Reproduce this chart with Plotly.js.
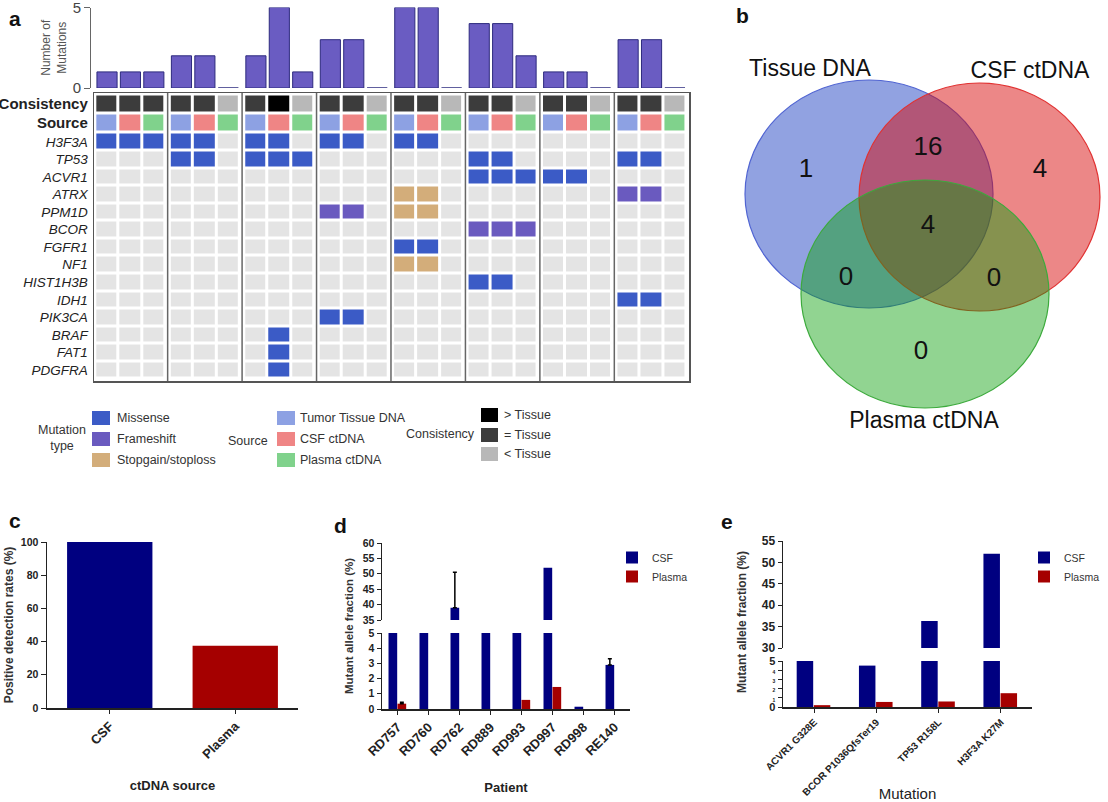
<!DOCTYPE html>
<html><head><meta charset="utf-8">
<script src="https://cdn.plot.ly/plotly-3.0.1.min.js"></script>
<style>html,body{margin:0;padding:0;background:#fff}</style>
</head><body><div id="chart" style="width:1108px;height:802px"></div>
<script>
// ================= DATA =================
// Panel a: oncoprint, 8 patients x 3 samples (Tumor tissue DNA, CSF ctDNA, Plasma ctDNA)
const genes = ['H3F3A','TP53','ACVR1','ATRX','PPM1D','BCOR','FGFR1','NF1','HIST1H3B','IDH1','PIK3CA','BRAF','FAT1','PDGFRA'];
// 0 none, 1 missense, 2 frameshift, 3 stopgain/stoploss
const mutH3F3A    = [1,1,1, 1,1,0, 1,1,0, 1,1,0, 1,1,0, 0,0,0, 0,0,0, 0,0,0];
const mutTP53     = [0,0,0, 1,1,0, 1,1,1, 0,0,0, 0,0,0, 1,1,0, 0,0,0, 1,1,0];
const mutACVR1    = [0,0,0, 0,0,0, 0,0,0, 0,0,0, 0,0,0, 1,1,1, 1,1,0, 0,0,0];
const mutATRX     = [0,0,0, 0,0,0, 0,0,0, 0,0,0, 3,3,0, 0,0,0, 0,0,0, 2,2,0];
const mutPPM1D    = [0,0,0, 0,0,0, 0,0,0, 2,2,0, 3,3,0, 0,0,0, 0,0,0, 0,0,0];
const mutBCOR     = [0,0,0, 0,0,0, 0,0,0, 0,0,0, 0,0,0, 2,2,2, 0,0,0, 0,0,0];
const mutFGFR1    = [0,0,0, 0,0,0, 0,0,0, 0,0,0, 1,1,0, 0,0,0, 0,0,0, 0,0,0];
const mutNF1      = [0,0,0, 0,0,0, 0,0,0, 0,0,0, 3,3,0, 0,0,0, 0,0,0, 0,0,0];
const mutHIST1H3B = [0,0,0, 0,0,0, 0,0,0, 0,0,0, 0,0,0, 1,1,0, 0,0,0, 0,0,0];
const mutIDH1     = [0,0,0, 0,0,0, 0,0,0, 0,0,0, 0,0,0, 0,0,0, 0,0,0, 1,1,0];
const mutPIK3CA   = [0,0,0, 0,0,0, 0,0,0, 1,1,0, 0,0,0, 0,0,0, 0,0,0, 0,0,0];
const mutBRAF     = [0,0,0, 0,0,0, 0,1,0, 0,0,0, 0,0,0, 0,0,0, 0,0,0, 0,0,0];
const mutFAT1     = [0,0,0, 0,0,0, 0,1,0, 0,0,0, 0,0,0, 0,0,0, 0,0,0, 0,0,0];
const mutPDGFRA   = [0,0,0, 0,0,0, 0,1,0, 0,0,0, 0,0,0, 0,0,0, 0,0,0, 0,0,0];
const mutationCounts = [1,1,1, 2,2,0, 2,5,1, 3,3,0, 5,5,0, 4,4,2, 1,1,0, 3,3,0];
const consistency = ['=','=','=', '=','=','<', '=','>','<', '=','=','<', '=','=','<', '=','=','<', '=','=','<', '=','=','<'];
const mutationTypes = ['Missense','Frameshift','Stopgain/stoploss'];
const sourceNames = ['Tumor Tissue DNA','CSF ctDNA','Plasma ctDNA'];
const consistencyNames = ['> Tissue','= Tissue','< Tissue'];

// Panel b: Venn
const vennSets = ['Tissue DNA','CSF ctDNA','Plasma ctDNA'];
const vennRegions = ['Tissue only','CSF only','Plasma only','Tissue & CSF','Tissue & Plasma','CSF & Plasma','All three'];
const vennCounts = [1,4,0,16,0,0,4];

// Panel c
const detectSources = ['CSF','Plasma'];
const detectRates = [100, 37.5];

// Panel d
const patientsD = ['RD757','RD760','RD762','RD889','RD993','RD997','RD998','RE140'];
const csfD = [18, 22, 39, 14, 25, 52, 0.15, 2.9];
const csfErrD = [NaN, NaN, 11.5, NaN, NaN, NaN, NaN, 0.4];
const plasmaD = [0.35, 0, 0, 0, 0.6, 1.45, 0, 0];
const plasmaErrD = [0.1, NaN, NaN, NaN, NaN, NaN, NaN, NaN];

// Panel e
const mutationsE = ['ACVR1 G328E','BCOR P1036QfsTer19','TP53 R158L','H3F3A K27M'];
const csfE = [12, 4.5, 36.3, 52];
const plasmaE = [0.2, 0.55, 0.6, 1.5];

// ================= LAYOUT HELPERS =================
const W = 1108, H = 802;
const px = v => v / W;
const py = v => 1 - v / H;
const FONT = 'Liberation Sans, Arial, Helvetica, sans-serif';
const NAVY = '#000080', DRED = '#a50000';

const GROUP = 3.18;
const colX = i => Math.floor(i / 3) * GROUP + (i % 3);
const rowY = [-2.166, -1.083].concat(genes.map((g, i) => i));
const cellColors = ['#e4e4e4','#3b5bc6','#6a5abf','#d3ad7a','#8da1e3','#ef8585','#80d28c','#000000','#3c3c3c','#b8b8b8'];
const colorscale = [];
cellColors.forEach((c, i) => { colorscale.push([i / 10, c]); colorscale.push([(i + 1) / 10, c]); });
const consCode = {'>': 7, '=': 8, '<': 9};
const mutRows = [mutH3F3A, mutTP53, mutACVR1, mutATRX, mutPPM1D, mutBCOR, mutFGFR1, mutNF1, mutHIST1H3B, mutIDH1, mutPIK3CA, mutBRAF, mutFAT1, mutPDGFRA];

const traces = [];
for (let g = 0; g < 8; g++) {
  const cols = [3 * g, 3 * g + 1, 3 * g + 2];
  const z = [cols.map(c => consCode[consistency[c]]), [4, 5, 6]].concat(mutRows.map(r => cols.map(c => r[c])));
  traces.push({type: 'heatmap', x: cols.map(colX), y: rowY, z: z, zmin: -0.5, zmax: 9.5,
    colorscale: colorscale, showscale: false, xgap: 3, ygap: 3, hoverinfo: 'skip', xaxis: 'x', yaxis: 'y'});
}
traces.push({type: 'bar', x: mutationCounts.map((v, i) => colX(i)), y: mutationCounts, width: 0.86,
  marker: {color: '#6a5cc2', line: {color: '#2d2a7e', width: 1}}, xaxis: 'x', yaxis: 'y2', showlegend: false, hoverinfo: 'y'});

// Venn labels
const vennCountPos = [[806,170],[1040,170],[921,352],[928,148],[846,278],[994,279],[928,226]];
const vennSetPos = [[810,70],[1030,72],[924,422]];
traces.push({type: 'scatter', mode: 'text', x: vennCountPos.map(p => p[0]), y: vennCountPos.map(p => p[1]),
  text: vennCounts.map(String), textfont: {size: 26, color: '#111', family: FONT}, xaxis: 'x2', yaxis: 'y3', showlegend: false, hoverinfo: 'skip'});
traces.push({type: 'scatter', mode: 'text', x: vennSetPos.map(p => p[0]), y: vennSetPos.map(p => p[1]),
  text: vennSets, textfont: {size: 23, color: '#111', family: FONT}, xaxis: 'x2', yaxis: 'y3', showlegend: false, hoverinfo: 'skip'});

// Panel c
traces.push({type: 'bar', x: detectSources, y: detectRates, width: 0.68, marker: {color: [NAVY, DRED]},
  xaxis: 'x3', yaxis: 'y4', showlegend: false});

// Panel d (two segments of broken axis)
const errOpts = arr => ({type: 'data', symmetric: false, array: arr, arrayminus: arr.map(v => isNaN(v) ? NaN : 0), color: '#000', thickness: 1.5, width: 2});
['y5', 'y6'].forEach((ya, k) => {
  traces.push({type: 'bar', name: 'CSF', x: patientsD, y: csfD, width: 0.28, offset: -0.29, marker: {color: NAVY, line: {width: 0}},
    error_y: errOpts(csfErrD), xaxis: 'x4', yaxis: ya, legend: 'legend', showlegend: k === 0});
  traces.push({type: 'bar', name: 'Plasma', x: patientsD, y: plasmaD, width: 0.28, offset: 0.0, marker: {color: DRED, line: {width: 0}},
    error_y: errOpts(plasmaErrD), xaxis: 'x4', yaxis: ya, legend: 'legend', showlegend: k === 0});
});
// Panel e
['y7', 'y8'].forEach((ya, k) => {
  traces.push({type: 'bar', name: 'CSF', x: mutationsE, y: csfE, width: 0.265, offset: -0.28, marker: {color: NAVY},
    xaxis: 'x5', yaxis: ya, legend: 'legend2', showlegend: k === 0});
  traces.push({type: 'bar', name: 'Plasma', x: mutationsE, y: plasmaE, width: 0.265, offset: -0.005, marker: {color: DRED},
    xaxis: 'x5', yaxis: ya, legend: 'legend2', showlegend: k === 0});
});

// ================= SHAPES & ANNOTATIONS =================
const shapes = [];
for (let g = 0; g < 7; g++) {
  const xs = g * GROUP + 2 + (GROUP - 2) / 2;
  shapes.push({type: 'line', xref: 'x', yref: 'y domain', x0: xs, x1: xs, y0: 0, y1: 1, line: {color: '#666', width: 1.5}});
}
// legend swatches (panel a)
const swatch = (x0, y0, x1, y1, c) => shapes.push({type: 'rect', xref: 'paper', yref: 'paper', x0: px(x0), x1: px(x1), y0: py(y1), y1: py(y0), fillcolor: c, line: {width: 0}});
const legRowsA = [[411,425],[432,446],[453,467]];
const legRowsC = [[408,422],[428,442],[447,461]];
legRowsA.forEach((r, i) => swatch(92, r[0], 110, r[1], cellColors[1 + i]));
legRowsA.forEach((r, i) => swatch(277, r[0], 295, r[1], cellColors[4 + i]));
legRowsC.forEach((r, i) => swatch(481, r[0], 498, r[1], cellColors[7 + i]));
// Venn circles
const vennCircles = [
  {x0: 745, x1: 993, y0: 80, y1: 308, fill: 'rgba(35,70,195,0.5)', line: 'rgb(80,100,210)'},
  {x0: 859, x1: 1100, y0: 83, y1: 311, fill: 'rgba(215,5,5,0.48)', line: 'rgb(225,50,50)'},
  {x0: 801, x1: 1049, y0: 180, y1: 408, fill: 'rgba(10,160,10,0.45)', line: 'rgb(60,170,60)'}
];
vennCircles.forEach(c => shapes.push({type: 'circle', xref: 'x2', yref: 'y3', x0: c.x0, x1: c.x1, y0: c.y0, y1: c.y1,
  fillcolor: c.fill, line: {color: c.line, width: 1.2}, layer: 'below'}));

const ann = [];
const txt = (x, y, text, opt) => ann.push(Object.assign({xref: 'paper', yref: 'paper', x: px(x), y: py(y), text: text, showarrow: false,
  font: {family: FONT, size: 12.5, color: '#333'}, xanchor: 'left', yanchor: 'middle'}, opt || {}));
[['a',15,18],['b',742,15],['c',15,520],['d',340,525],['e',727,521]].forEach(l =>
  txt(l[1], l[2], l[0], {xanchor: 'center', font: {family: FONT, size: 21, color: '#111', weight: 'bold'}}));
txt(62, 438, 'Mutation<br>type', {xanchor: 'center', align: 'center'});
mutationTypes.forEach((t, i) => txt(115, (legRowsA[i][0] + legRowsA[i][1]) / 2, t));
txt(270, 441, 'Source', {xanchor: 'right'});
sourceNames.forEach((t, i) => txt(298, (legRowsA[i][0] + legRowsA[i][1]) / 2, t));
txt(477, 434, 'Consistency', {xanchor: 'right'});
consistencyNames.forEach((t, i) => txt(502, (legRowsC[i][0] + legRowsC[i][1]) / 2, t));
txt(349, 626, 'Mutant allele fraction (%)', {xanchor: 'center', textangle: -90, font: {family: FONT, size: 11.5, color: '#333', weight: 'bold'}});
txt(742, 622, 'Mutant allele fraction (%)', {xanchor: 'center', textangle: -90, font: {family: FONT, size: 12, color: '#333', weight: 'bold'}});

// ================= AXES =================
const boldTick = s => ({family: FONT, size: s, color: '#222', weight: 'bold'});
const baseAx = {showgrid: false, zeroline: false, showline: true, linecolor: '#222', linewidth: 1.5, ticks: 'outside', ticklen: 4, tickcolor: '#222'};
const tinyTick = v => '<span style="font-size:5px">' + v + '</span>';

const layout = {
  width: W, height: H, margin: {l: 0, r: 0, t: 0, b: 0}, paper_bgcolor: '#fff', plot_bgcolor: 'rgba(0,0,0,0)',
  font: {family: FONT, color: '#222'}, showlegend: true, barmode: 'overlay',
  xaxis: {domain: [px(94), px(689)], range: [-0.556, 7 * GROUP + 2.6], anchor: 'y', showgrid: false, zeroline: false,
    showline: true, mirror: true, linecolor: '#555', linewidth: 1.5, showticklabels: false, ticks: ''},
  yaxis: {domain: [py(381), py(93)], range: [13.63, -2.79], anchor: 'x', showgrid: false, zeroline: false,
    showline: true, mirror: true, linecolor: '#555', linewidth: 1.5, ticks: '', tickvals: rowY,
    ticktext: ['<b><span style="font-size:15px">Consistency</span></b>', '<b><span style="font-size:15px">Source</span></b>'].concat(genes.map(g => '<i>' + g + '</i>')),
    tickfont: {family: FONT, size: 13.5, color: '#222'}, ticklabelstandoff: 2},
  yaxis2: {domain: [py(88), py(7.5)], range: [0, 5], anchor: 'free', position: px(90), showgrid: false, zeroline: false,
    showline: true, linecolor: '#666', linewidth: 1.2, ticks: 'outside', ticklen: 6, tickcolor: '#666', tickvals: [0, 5],
    ticklabeloverflow: 'allow', tickfont: {family: FONT, size: 15, color: '#444'},
    title: {text: 'Number of<br>Mutations', font: {family: FONT, size: 12, color: '#555'}, standoff: 2}},
  // Venn
  xaxis2: {domain: [px(700), 1], range: [700, 1108], visible: false, anchor: 'y3'},
  yaxis3: {domain: [py(440), 1], range: [440, 0], visible: false, anchor: 'x2'},
  // Panel c
  xaxis3: Object.assign({}, baseAx, {domain: [px(47), px(298)], anchor: 'y4', type: 'category', tickangle: -45,
    tickfont: boldTick(13), title: {text: 'ctDNA source', standoff: 20, font: {family: FONT, size: 13, color: '#222', weight: 'bold'}}}),
  yaxis4: Object.assign({}, baseAx, {domain: [py(708), py(542)], range: [0, 100], anchor: 'x3', dtick: 20, ticklen: 5,
    ticklabeloverflow: 'allow', tickfont: boldTick(10.5), title: {text: 'Positive detection rates (%)', font: {family: FONT, size: 12, color: '#333', weight: 'bold'}}}),
  // Panel d
  xaxis4: Object.assign({}, baseAx, {domain: [px(382), px(630)], anchor: 'y5', type: 'category', tickangle: -45,
    tickfont: boldTick(13), title: {text: 'Patient', standoff: 25, font: {family: FONT, size: 13, color: '#222', weight: 'bold'}}}),
  yaxis5: Object.assign({}, baseAx, {domain: [py(709), py(633)], range: [0, 5], anchor: 'x4', dtick: 1, tickfont: boldTick(10.5)}),
  yaxis6: Object.assign({}, baseAx, {domain: [py(620), py(543)], range: [35, 60], anchor: 'x4', dtick: 5, ticklabeloverflow: 'allow', tickfont: boldTick(10.5)}),
  // Panel e
  xaxis5: Object.assign({}, baseAx, {domain: [px(783), px(1032)], anchor: 'y7', type: 'category', tickangle: -45,
    tickfont: boldTick(10), title: {text: 'Mutation', font: {family: FONT, size: 15, color: '#222'}}}),
  yaxis7: Object.assign({}, baseAx, {domain: [py(707), py(661)], range: [0, 5], anchor: 'x5', tickvals: [0, 1, 2, 3, 4, 5],
    ticktext: ['0', tinyTick(1), tinyTick(2), tinyTick(3), tinyTick(4), '5'], tickfont: boldTick(11)}),
  yaxis8: Object.assign({}, baseAx, {domain: [py(648), py(541)], range: [30, 55], anchor: 'x5', dtick: 5, ticklabeloverflow: 'allow', tickfont: boldTick(12)}),
  legend: {x: px(612), y: py(543), xanchor: 'left', yanchor: 'top', bgcolor: 'rgba(0,0,0,0)', font: {family: FONT, size: 10.5, color: '#333'}},
  legend2: {x: px(1024), y: py(543), xanchor: 'left', yanchor: 'top', bgcolor: 'rgba(0,0,0,0)', font: {family: FONT, size: 10.5, color: '#333'}},
  shapes: shapes, annotations: ann
};

Plotly.newPlot('chart', traces, layout, {staticPlot: true, displayModeBar: false});
</script></body></html>
